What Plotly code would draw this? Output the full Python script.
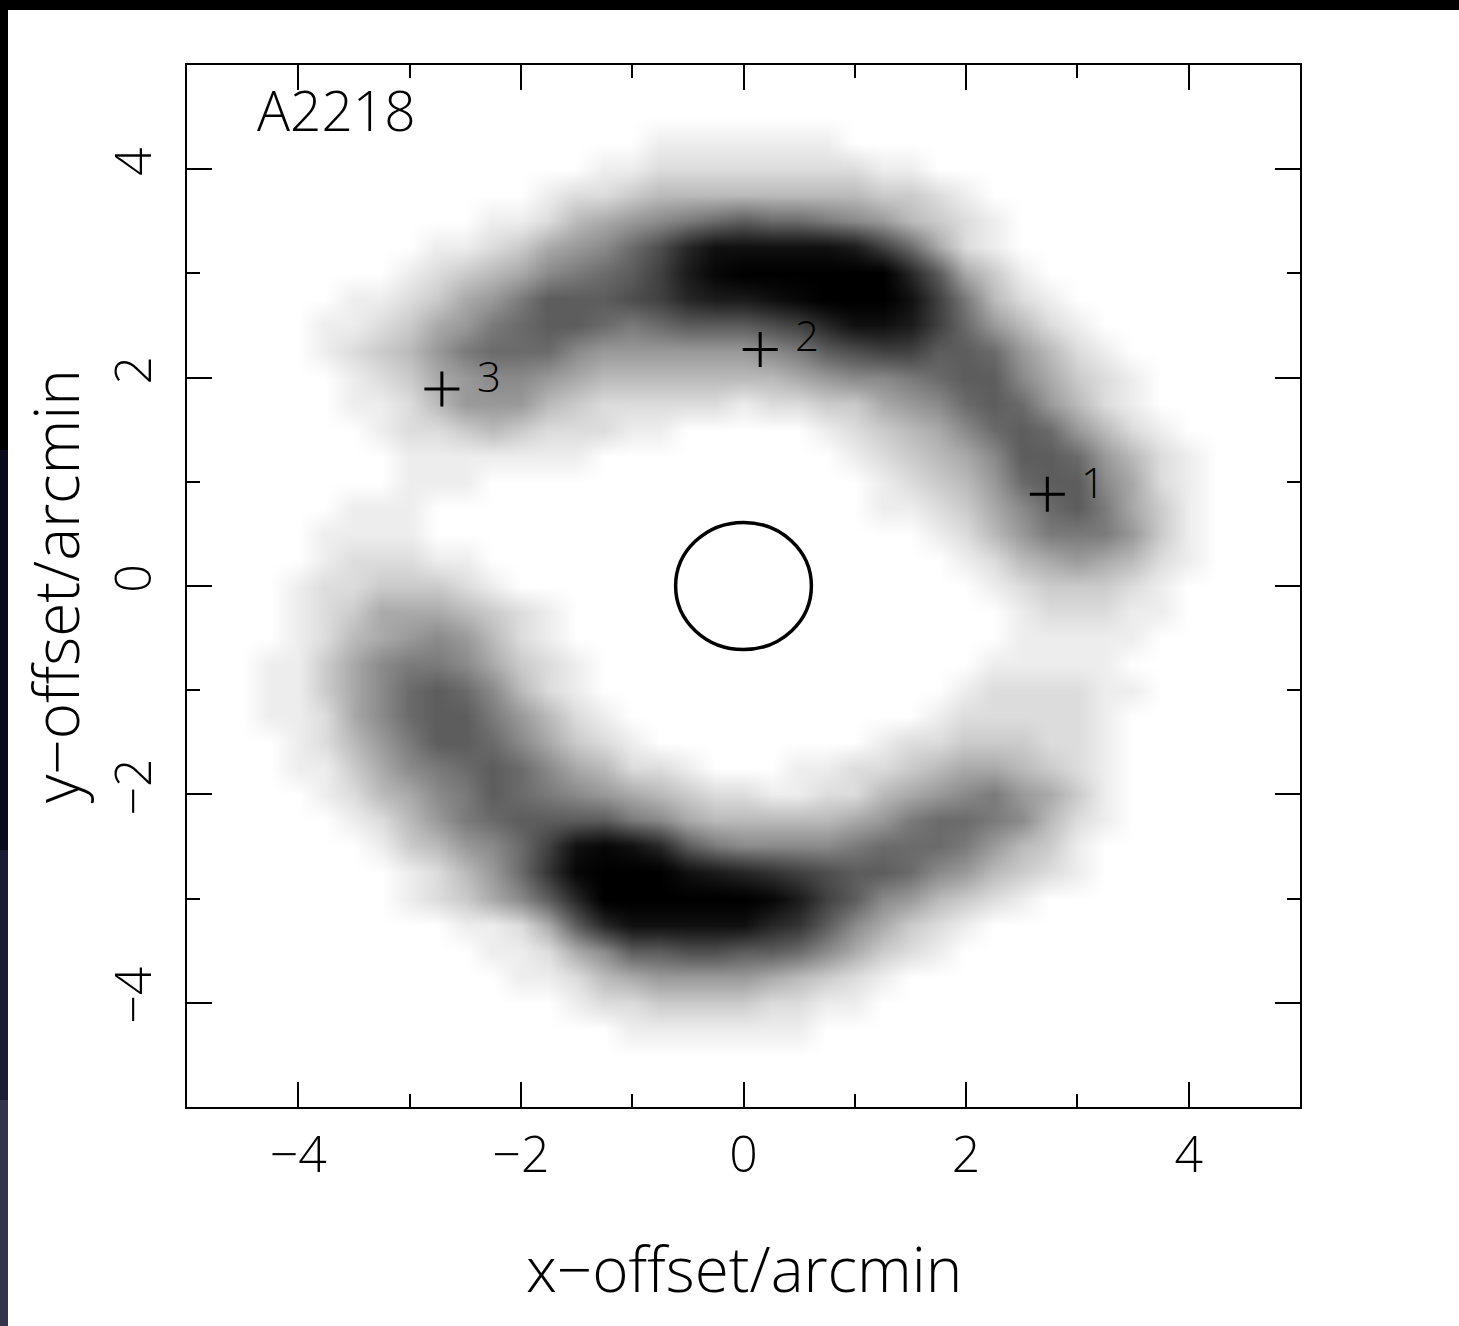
import plotly.graph_objects as go

# ---------------- data ----------------
# grey-scale map: darkness in half steps, 0 (white) .. 18 (black), one
# character per cell ("0"-"9" then "a"-"i"), sampled every 0.25 arcmin
LEVELS = "0123456789abcdefghi"
GRID_X = [-4.5 + 0.25 * i for i in range(37)]
ROW_Y = [4.5, 4.25, 4.0, 3.75, 3.5, 3.25, 3.0, 2.75, 2.5, 2.25, 2.0, 1.75, 1.5,
         1.25, 1.0, 0.75, 0.5, 0.25, 0.0, -0.25, -0.5, -0.75, -1.0, -1.25, -1.5,
         -1.75, -2.0, -2.25, -2.5, -2.75, -3.0, -3.25, -3.5, -3.75, -4.0, -4.25, -4.5]
# index of the first non-white column in each row
ROW_START = [0, 15, 13, 11, 9, 7, 6, 4, 3, 3, 4, 4, 5,
             6, 6, 4, 3, 3, 2, 2, 2, 1, 1, 1, 2,
             2, 3, 4, 5, 6, 6, 8, 9, 10, 12, 14, 0]
ROW_DIGITS = [
    "",
    "1111111",
    "11" "22222222" "11",
    "1223444444443321",
    "1124567" "89a99876" "4321",
    "11235679begggggfc9521",
    "1234" "5789" "acfh" "iiii" "ii" "ea53" "1",
    "1123" "568a" "aabc" "effg" "hiii" "gc84" "21",
    "1123" "5689" "aa98" "9aaa" "bceg" "gfc9" "6421",
    "1234" "6899" "9766" "6666" "78ab" "ccaa" "9642" "1",
    "1235" "6776" "5444" "4444" "5677" "89aa" "7532" "1",
    "1124" "6664" "3222" "2212" "2335" "679a" "9642" "1",
    "1223" "4322" "2110" "0000" "1234" "579a" "9642" "1",
    "1111111" "000000000" "1234" "57aa" "9642" "1",
    "111" "00000000000000" "1234" "69aa" "7521",
    "111" "0000000000000000" "1123" "579a" "8531",
    "1111" "000000000000000000" "1246" "8886" "31",
    "122211" "00000000000000000" "12456" "5421",
    "12233321" "00000000000000000" "1233321",
    "1235554321" "0000000000000000" "122211",
    "1245676421" "0000000000000000" "11111",
    "113578875321" "00000000000000" "11111",
    "113579a97421" "0000000000000" "1222211",
    "112579aa86421" "00000000000" "1222221",
    "12468aa975321" "00000000" "122333221",
    "1135789a975422" "1000" "112234554321",
    "1245" "78a9" "8765" "4322" "1122" "4567" "8653" "1",
    "1246" "89aa" "aa87" "5444" "4456" "8998" "7421",
    "1346" "79cg" "hgea" "8777" "7899" "9864" "31",
    "1246" "9dhi" "iigf" "edcb" "aa97" "6432" "1",
    "1235" "7aei" "iiii" "ihfc" "a764" "321",
    "1125" "aegg" "ggge" "da75" "321",
    "1125" "7aab" "baa9" "7532" "1",
    "1124" "5666" "6543" "21",
    "12233332211",
    "1111111",
    "",
]

# marked positions and their labels
SRC_X = [2.73, 0.15, -2.71]
SRC_Y = [0.88, 2.27, 1.89]
SRC_LABEL = ["1", "2", "3"]
LABEL_X = [3.14, 0.57, -2.29]
LABEL_Y = [1.00, 2.41, 2.02]

# central circle
CIRCLE_CX, CIRCLE_CY, CIRCLE_R = 0.0, 0.0, 0.61

TICKS = [-4, -2, 0, 2, 4]
TICK_TEXT = ["\u22124", "\u22122", "0", "2", "4"]
MINOR_TICKS = [-3, -1, 1, 3]

# ---------------- build the grid ----------------
ncol = len(GRID_X)
z = []
for start, digits in zip(ROW_START, ROW_DIGITS):
    row = [0] * ncol
    for k, ch in enumerate(digits):
        row[start + k] = LEVELS.index(ch)
    z.append(row)
y_vals = ROW_Y[::-1]
z = z[::-1]

# grey ramp (slightly darker mid-tones, like the printed grey scale)
colorscale = []
for k in range(21):
    t = k / 20
    g = int(round(255 * (1 - t) ** 1.25))
    colorscale.append([t, "rgb(%d,%d,%d)" % (g, g, g)])

fig = go.Figure()
fig.add_trace(go.Heatmap(
    x=GRID_X, y=y_vals, z=z, zmin=0, zmax=18, zsmooth="best",
    colorscale=colorscale, showscale=False, hoverinfo="skip"))

fig.add_trace(go.Scatter(
    x=SRC_X, y=SRC_Y, mode="markers",
    marker=dict(symbol="cross-thin", size=25, color="black",
                line=dict(width=3, color="black")),
    showlegend=False, hoverinfo="skip"))

FONT = "Open Sans, DejaVu Sans, sans-serif"

annotations = []
for lx, ly, lt in zip(LABEL_X, LABEL_Y, SRC_LABEL):
    annotations.append(dict(x=lx, y=ly, text=lt, showarrow=False,
                            xref="x", yref="y",
                            font=dict(size=42, color="black", family=FONT, weight=300)))
annotations.append(dict(x=-4.39, y=4.57, text="A2218", showarrow=False,
                        xref="x", yref="y", xanchor="left", yanchor="middle",
                        font=dict(size=55, color="black", family=FONT, weight=300)))
annotations.append(dict(x=0.5, y=-0.1545, xref="paper", yref="paper",
                        text="x\u2212offset/arcmin", showarrow=False,
                        xanchor="center", yanchor="middle",
                        font=dict(size=62, color="black", family=FONT, weight=300)))
annotations.append(dict(x=-0.1185, y=0.5, xref="paper", yref="paper",
                        text="y\u2212offset/arcmin", showarrow=False, textangle=-90,
                        xanchor="center", yanchor="middle",
                        font=dict(size=62, color="black", family=FONT, weight=300)))

shapes = [
    dict(type="circle", xref="x", yref="y",
         x0=CIRCLE_CX - CIRCLE_R, x1=CIRCLE_CX + CIRCLE_R,
         y0=CIRCLE_CY - CIRCLE_R, y1=CIRCLE_CY + CIRCLE_R,
         line=dict(color="black", width=3.5)),
]
# dark slide border (top strip + left strip)
L, R, T, B = 187, 159, 65, 219
PW, PH = 1459 - L - R, 1326 - T - B
def px(xp):
    return (xp - L) / PW
def py(yp):
    return (1326 - B - yp) / PH
shapes.append(dict(type="rect", xref="paper", yref="paper", x0=px(0), x1=px(1459),
                   y0=py(10), y1=py(0), fillcolor="black", line=dict(width=0), layer="above"))
for y_top, y_bot, col in [(0, 450, "#000000"), (450, 850, "#0a0a1c"),
                          (850, 1100, "#1c1c36"), (1100, 1326, "#34344f")]:
    shapes.append(dict(type="rect", xref="paper", yref="paper", x0=px(0), x1=px(8),
                       y0=py(y_bot), y1=py(y_top), fillcolor=col, line=dict(width=0),
                       layer="above"))

axis_common = dict(
    range=[-5, 5], showgrid=False, zeroline=False, showline=True,
    linecolor="black", linewidth=2, mirror="ticks",
    ticks="inside", ticklen=25, tickwidth=2, tickcolor="black",
    tickvals=TICKS, ticktext=TICK_TEXT,
    tickfont=dict(size=50, color="black", family=FONT, weight=300),
    minor=dict(ticks="inside", ticklen=13, tickwidth=2, tickcolor="black",
               tickvals=MINOR_TICKS),
)

fig.update_layout(
    width=1459, height=1326, autosize=False,
    margin=dict(l=L, r=R, t=T, b=B, pad=0),
    paper_bgcolor="white", plot_bgcolor="white",
    xaxis=dict(**axis_common, ticklabelstandoff=3),
    yaxis=dict(**axis_common, tickangle=-90, ticklabelstandoff=14),
    annotations=annotations, shapes=shapes, showlegend=False,
)

fig.write_html("out.html", config={"displayModeBar": False},
               post_script="document.body.style.margin='0px';"
                           "document.body.style.overflow='hidden';")
